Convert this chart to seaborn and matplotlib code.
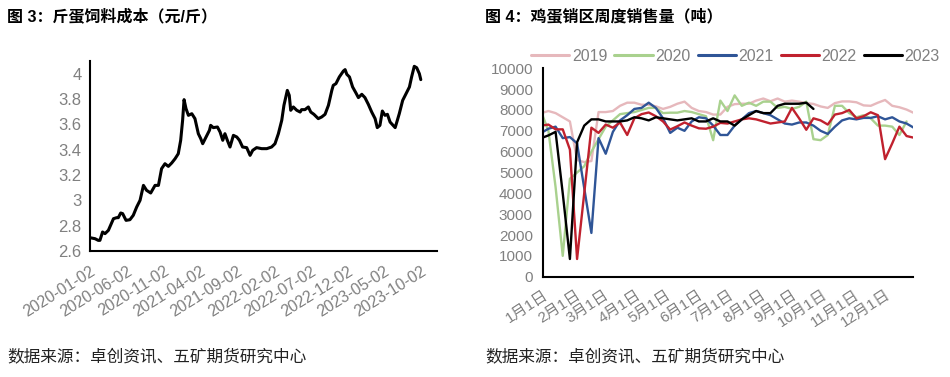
import numpy as np
import pandas as pd
import matplotlib
matplotlib.use("Agg")
import matplotlib.pyplot as plt
import seaborn as sns

# ---------------- Left chart data: 斤蛋饲料成本 ----------------
cost_start = "2020-01-02"
cost_days = [0, 21, 34, 41, 52, 62, 76, 97, 110, 117, 127, 135, 149, 165, 179, 193, 207, 221,
             234, 251, 269, 283, 296, 310, 324, 338, 352, 365, 375, 383, 389, 397, 407, 421,
             434, 448, 458, 466, 480, 494, 499, 510, 527, 538, 549, 558, 568, 579, 593, 607,
             618, 631, 648, 662, 673, 689, 710, 731, 751, 765, 779, 793, 802, 816, 824, 830,
             841, 855, 869, 875, 889, 903, 913, 926, 944, 958, 972, 986, 1000, 1006, 1017,
             1031, 1048, 1055, 1062, 1073, 1086, 1100, 1110, 1124, 1137, 1151, 1165, 1179,
             1188, 1199, 1209, 1220, 1230, 1241, 1262, 1271, 1279, 1293, 1307, 1321, 1330,
             1341, 1351, 1362, 1368]
cost_values = [2.705, 2.697, 2.684, 2.684, 2.75, 2.737, 2.763, 2.855, 2.863, 2.863, 2.90, 2.895,
               2.842, 2.847, 2.882, 2.947, 3.0, 3.118, 3.079, 3.058, 3.118, 3.118, 3.25, 3.289,
               3.268, 3.295, 3.329, 3.368, 3.474, 3.632, 3.795, 3.724, 3.671, 3.684, 3.645,
               3.526, 3.487, 3.447, 3.5, 3.553, 3.592, 3.574, 3.579, 3.539, 3.474, 3.526,
               3.474, 3.421, 3.513, 3.5, 3.474, 3.421, 3.416, 3.355, 3.395, 3.416, 3.408,
               3.408, 3.421, 3.447, 3.526, 3.632, 3.75, 3.868, 3.829, 3.711, 3.737, 3.711,
               3.697, 3.716, 3.716, 3.737, 3.697, 3.679, 3.645, 3.658, 3.679, 3.75, 3.868,
               3.908, 3.921, 3.974, 4.021, 4.032, 3.995, 3.974, 3.895, 3.847, 3.811, 3.837,
               3.811, 3.758, 3.697, 3.645, 3.574, 3.592, 3.705, 3.671, 3.679, 3.618, 3.574,
               3.632, 3.684, 3.789, 3.842, 3.895, 3.974, 4.058, 4.047, 4.0, 3.953]
cost_xtick_labels = ["2020-01-02", "2020-06-02", "2020-11-02", "2021-04-02", "2021-09-02",
                     "2022-02-02", "2022-07-02", "2022-12-02", "2023-05-02", "2023-10-02"]
cost_ytick_values = [2.6, 2.8, 3.0, 3.2, 3.4, 3.6, 3.8, 4.0]
cost_ytick_labels = ["2.6", "2.8", "3", "3.2", "3.4", "3.6", "3.8", "4"]

# ---------------- Right chart data: 鸡蛋销区周度销售量 ----------------
sales_years = ["2019", "2020", "2021", "2022", "2023"]
sales_first_day = -2   # day-of-year of first weekly observation
sales_2019 = [7850, 7950, 7850, 7650, 7450, 5600, 5500, 5550, 7900, 7900, 7950, 8200, 8350, 8350,
              8250, 8250, 8175, 8050, 8150, 8300, 8400, 8100, 7950, 7900, 7780, 7780, 8150, 8280,
              8300, 8300, 8450, 8550, 8420, 8550, 8400, 8450, 8400, 8330, 8290, 8170, 8100, 8330,
              8410, 8410, 8370, 8220, 8200, 8350, 8480, 8200, 8130, 8020, 7860]
sales_2020 = [7900, 7000, 4300, 1000, 4700, 5000, 5300, 6000, 6600, 7200, 7500, 7800, 7850, 7900,
              8000, 8100, 8100, 7850, 7870, 7870, 7950, 7900, 7800, 7700, 6550, 8450, 7950, 8700,
              8200, 8350, 8200, 8400, 8400, 8100, 8150, 8050, 8150, 8400, 6600, 6550, 6800, 8200,
              8200, 7850, 7650, 7750, 7600, 7250, 7250, 7200, 6800, 7450]
sales_2021 = [6900, 7100, 7200, 6650, 6700, 6400, 4250, 2100, 6650, 5900, 6950, 7500, 7750, 8050,
              8100, 8350, 8100, 7600, 6900, 7150, 7000, 7450, 7650, 7600, 7250, 6800, 6800, 7250,
              7550, 7850, 7950, 7850, 7750, 7550, 7350, 7300, 7400, 7400, 7250, 7000, 6850, 7200,
              7500, 7600, 7550, 7620, 7620, 7700, 7550, 7650, 7450, 7350, 7150]
sales_2022 = [7250, 7300, 7070, 7070, 6100, 850, 4000, 7150, 6900, 7300, 7150, 7400, 6800, 7600,
              7800, 7880, 7700, 7450, 7060, 7220, 7400, 7250, 7120, 7100, 7200, 7380, 7350, 7450,
              7550, 7600, 7550, 7450, 7350, 7400, 7450, 8100, 7600, 7050, 7600, 7500, 7300, 7780,
              7850, 8000, 7600, 7700, 7890, 7750, 5640, 6400, 7200, 6750, 6670]
sales_2023 = [6650, 6780, 6950, 4000, 850, 6450, 7250, 7550, 7550, 7450, 7450, 7450, 7500, 7650,
              7600, 7500, 7650, 7600, 7550, 7500, 7550, 7600, 7450, 7450, 7600, 7450, 7450, 7250,
              7550, 7750, 7950, 7850, 7850, 8200, 8300, 8300, 8300, 8350, 8050]
month_tick_days = [0, 31, 59, 90, 120, 151, 181, 212, 243, 273, 304, 334]
month_tick_labels = ["1月1日", "2月1日", "3月1日", "4月1日", "5月1日", "6月1日", "7月1日",
                     "8月1日", "9月1日", "10月1日", "11月1日", "12月1日"]
sales_yticks = [0, 1000, 2000, 3000, 4000, 5000, 6000, 7000, 8000, 9000, 10000]

# ---------------- Styling ----------------
sns.set_style("white")
plt.rcParams["font.family"] = ["Liberation Sans", "Noto Sans CJK SC"]
plt.rcParams["axes.unicode_minus"] = False

GRAY = "#808080"
palette = {"2019": "#E6B8BC", "2020": "#A9D18E", "2021": "#2F5597",
           "2022": "#C0212E", "2023": "#000000"}

fig = plt.figure(figsize=(9.5, 3.77), dpi=100)
ax1 = fig.add_axes([90 / 950, 1 - 251 / 377, 347 / 950, 190 / 377])
ax2 = fig.add_axes([543.3 / 950, 1 - 276.7 / 377, 369.4 / 950, 208.4 / 377])

# ---- Left chart ----
start = pd.Timestamp(cost_start)
cost_df = pd.DataFrame({"date": start + pd.to_timedelta(cost_days, unit="D"),
                        "cost": cost_values})
sns.lineplot(data=cost_df, x="date", y="cost", ax=ax1, color="black", linewidth=2.2)
ax1.set_ylim(2.6, 4.1)
ax1.set_xlim(start, pd.Timestamp("2023-12-07"))
ax1.set_yticks(cost_ytick_values)
ax1.set_yticklabels(cost_ytick_labels)
ax1.set_xticks(pd.to_datetime(cost_xtick_labels))
ax1.set_xticklabels(cost_xtick_labels, rotation=32, ha="right", rotation_mode="anchor")
ax1.set_xlabel("")
ax1.set_ylabel("")
for s in ["top", "right"]:
    ax1.spines[s].set_visible(False)
for s in ["left", "bottom"]:
    ax1.spines[s].set_color("black")
    ax1.spines[s].set_linewidth(1.5)
ax1.tick_params(axis="x", direction="out", length=4, width=1.3, color="black",
                labelsize=11.5, labelcolor=GRAY, pad=5)
ax1.tick_params(axis="y", length=0, labelsize=12, labelcolor=GRAY, pad=6)

# ---- Right chart ----
series = [sales_2019, sales_2020, sales_2021, sales_2022, sales_2023]
rows = []
for yr, vals in zip(sales_years, series):
    for k, v in enumerate(vals):
        rows.append({"year": yr, "day": sales_first_day + 7 * k, "sales": v})
sales_df = pd.DataFrame(rows)
sns.lineplot(data=sales_df, x="day", y="sales", hue="year", hue_order=sales_years,
             palette=palette, ax=ax2, linewidth=1.7, legend=True)
ax2.set_xlim(0, 361)
ax2.set_ylim(0, 10000)
ax2.set_yticks(sales_yticks)
ax2.set_yticklabels([str(v) for v in sales_yticks])
ax2.set_xticks(month_tick_days)
ax2.set_xticklabels(month_tick_labels, rotation=33, ha="right", rotation_mode="anchor")
ax2.set_xlabel("")
ax2.set_ylabel("")
for s in ["top", "right"]:
    ax2.spines[s].set_visible(False)
for s in ["left", "bottom"]:
    ax2.spines[s].set_color("black")
    ax2.spines[s].set_linewidth(1.5)
ax2.tick_params(axis="both", direction="out", length=4, width=1.3, color="black",
                labelsize=11, labelcolor=GRAY)
ax2.tick_params(axis="x", pad=4)
handles, labels = ax2.get_legend_handles_labels()
for h in handles:
    h.set_linewidth(2.2)
ax2.legend(handles, labels, loc="center", bbox_to_anchor=(0.52, 1.059), ncol=5,
           frameon=False, handlelength=2.4, handletextpad=0.15, columnspacing=0.45,
           fontsize=11.5, labelcolor=GRAY, borderaxespad=0, borderpad=0)

# ---- Titles and sources ----
fig.text(7 / 950, 1 - 16 / 377, "图 3：斤蛋饲料成本（元/斤）", fontsize=11.5,
         fontweight="bold", ha="left", va="center", color="black")
fig.text(485 / 950, 1 - 16 / 377, "图 4：鸡蛋销区周度销售量（吨）", fontsize=11.5,
         fontweight="bold", ha="left", va="center", color="black")
fig.text(7 / 950, 1 - 356 / 377, "数据来源：卓创资讯、五矿期货研究中心", fontsize=12,
         ha="left", va="center", color="#222222")
fig.text(485 / 950, 1 - 356 / 377, "数据来源：卓创资讯、五矿期货研究中心", fontsize=12,
         ha="left", va="center", color="#222222")

fig.savefig("out.png", dpi=100)
